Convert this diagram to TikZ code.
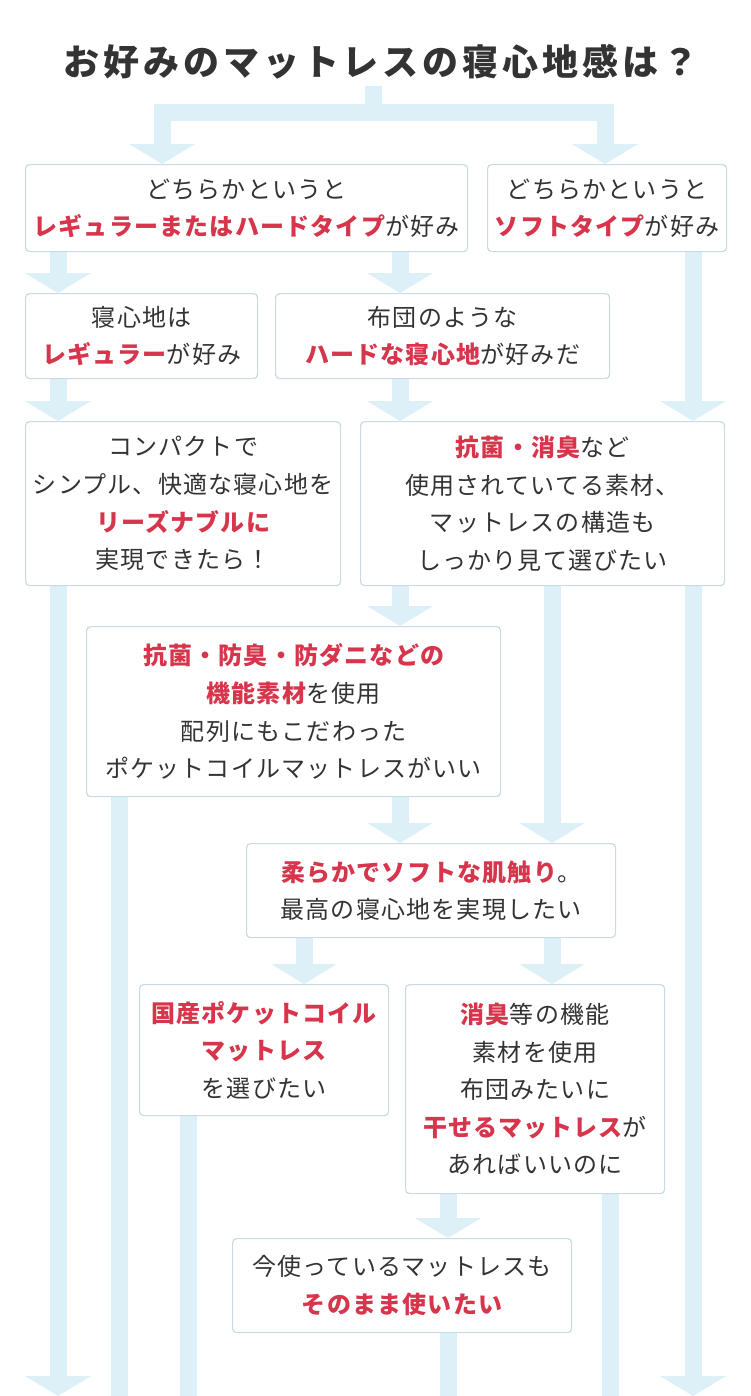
\documentclass[tikz,border=0pt]{standalone}
\usepackage{fontspec}
\setmainfont{Noto Sans CJK JP}
\usetikzlibrary{arrows.meta,backgrounds}
\definecolor{flowc}{HTML}{DDF0F7}
\definecolor{boxline}{HTML}{C8DBE9}
\definecolor{accent}{HTML}{D6354B}
\definecolor{txt}{HTML}{333333}
\newcommand{\hlt}[1]{{\color{accent}\bfseries #1}}
\begin{document}
\begin{tikzpicture}[x=0.75pt,y=-0.75pt,
  box/.style={draw=boxline, line width=0.9pt, rounded corners=3pt, fill=white,
    anchor=north west, inner sep=0pt, align=center, text=txt,
    font=\fontsize{18}{28.2}\selectfont\addfontfeature{LetterSpace=5}},
  flow/.style={draw=flowc, line width=12.75pt, line join=miter, line cap=butt},
  flowhead/.style={flow, -{Triangle[width=49.5pt,length=15pt,line width=0pt]}},
]
\useasboundingbox (0,0) rectangle (750,1396);

% title
\node[text=txt, font=\fontsize{27}{30}\selectfont\bfseries\addfontfeature{LetterSpace=11}] (T) at (381,62) {お好みのマットレスの寝心地感は？};

% boxes
\node[box, minimum width=331.5pt, minimum height=65.25pt] (A) at (25,164)
  {どちらかというと\\\hlt{レギュラーまたはハードタイプ}が好み};
\node[box, minimum width=179.25pt, minimum height=65.25pt] (B) at (487,164)
  {どちらかというと\\\hlt{ソフトタイプ}が好み};
\node[box, minimum width=174pt, minimum height=63.75pt] (C) at (25,293)
  {寝心地は\\\hlt{レギュラー}が好み};
\node[box, minimum width=250.5pt, minimum height=63.75pt] (D) at (275,293)
  {布団のような\\\hlt{ハードな寝心地}が好みだ};
\node[box, minimum width=236.25pt, minimum height=123pt] (E) at (25,421)
  {コンパクトで\\シンプル、快適な寝心地を\\\hlt{リーズナブルに}\\実現できたら！};
\node[box, minimum width=273pt, minimum height=123pt] (F) at (360,421)
  {\hlt{抗菌・消臭}など\\使用されていてる素材、\\マットレスの構造も\\しっかり見て選びたい};
\node[box, minimum width=310.5pt, minimum height=127.5pt] (G) at (86,626)
  {\hlt{抗菌・防臭・防ダニなどの}\\\hlt{機能素材}を使用\\配列にもこだわった\\ポケットコイルマットレスがいい};
\node[box, minimum width=276.75pt, minimum height=70.5pt] (H) at (246,843)
  {\hlt{柔らかでソフトな肌触り}。\\最高の寝心地を実現したい};
\node[box, minimum width=186.75pt, minimum height=98.25pt] (I) at (139,984)
  {\hlt{国産ポケットコイル}\\\hlt{マットレス}\\を選びたい};
\node[box, minimum width=194.25pt, minimum height=156.75pt] (J) at (405,984)
  {\hlt{消臭}等の機能\\素材を使用\\布団みたいに\\\hlt{干せるマットレス}が\\あればいいのに};
\node[box, minimum width=254.25pt, minimum height=70.5pt] (K) at (232,1238)
  {今使っているマットレスも\\\hlt{そのまま使いたい}};

% column coordinates
\coordinate (c58) at (58,0);
\coordinate (c119) at (119,0);
\coordinate (c162) at (162,0);
\coordinate (c188) at (188,0);
\coordinate (c304) at (304,0);
\coordinate (c400) at (400,0);
\coordinate (c448) at (448,0);
\coordinate (c552) at (552,0);
\coordinate (c605) at (605,0);
\coordinate (c610) at (610,0);
\coordinate (c693) at (693,0);
\coordinate (top) at (373.5,86);
\coordinate (bar) at (373.5,112.5);
\coordinate (b58) at (58,1396);
\coordinate (b119) at (119,1396);
\coordinate (b188) at (188,1396);
\coordinate (b448) at (448,1396);
\coordinate (b610) at (610,1396);
\coordinate (b693) at (693,1396);

\begin{scope}[on background layer]
\fill[white] (0,0) rectangle (750,1396);
\draw[flowhead] (top) -- (bar) -| (A.north -| c162);
\draw[flowhead] (top) -- (bar) -| (B.north -| c605);
\draw[flowhead] (A.south -| c58) -- (C.north -| c58);
\draw[flowhead] (A.south -| c400) -- (D.north -| c400);
\draw[flowhead] (B.south -| c693) -- (F.north -| c693);
\draw[flowhead] (C.south -| c58) -- (E.north -| c58);
\draw[flowhead] (D.south -| c400) -- (F.north -| c400);
\draw[flowhead] (E.south -| c58) -- (b58);
\draw[flowhead] (F.south -| c400) -- (G.north -| c400);
\draw[flowhead] (F.south -| c552) -- (H.north -| c552);
\draw[flowhead] (F.south -| c693) -- (b693);
\draw[flow] (G.south -| c119) -- (b119);
\draw[flowhead] (G.south -| c400) -- (H.north -| c400);
\draw[flowhead] (H.south -| c304) -- (I.north -| c304);
\draw[flowhead] (H.south -| c552) -- (J.north -| c552);
\draw[flow] (I.south -| c188) -- (b188);
\draw[flowhead] (J.south -| c448) -- (K.north -| c448);
\draw[flow] (J.south -| c610) -- (b610);
\draw[flow] (K.south -| c448) -- (b448);
\end{scope}
\end{tikzpicture}
\end{document}
